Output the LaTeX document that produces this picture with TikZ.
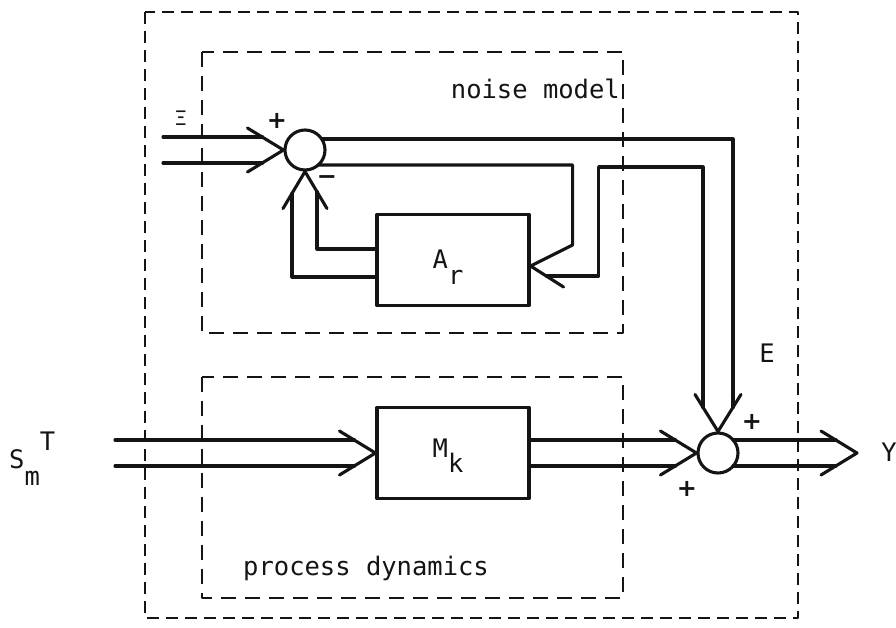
\documentclass[tikz,border=0pt]{standalone}
\usepackage{fontspec}
\setmonofont{DejaVu Sans Mono}
\newfontfamily\signfont{DejaVu Sans}
\usetikzlibrary{calc}
\definecolor{ink}{HTML}{141414}

% a two-line (vector) signal running right into one chevron tip
\newcommand{\hbus}[2]{%
  \draw[bus] ($(#1)+(0,-13)$) -- ($(#2)+(-21,-13)$);
  \draw[bus] ($(#1)+(0,13)$) -- ($(#2)+(-21,13)$);
  \draw[bus] ($(#2)+(-36,-22)$) -- (#2) -- ($(#2)+(-36,22)$);}

\begin{document}
\begin{tikzpicture}[x=1pt,y=-1pt,font=\ttfamily\fontsize{25.5}{30}\selectfont,text=ink,
  line cap=round,line join=round,
  bus/.style={ink,line width=3.1pt},
  frame/.style={ink,line width=2.6pt,line cap=butt,dash pattern=on 12pt off 7pt},
  block/.style={draw=ink,line width=3.1pt,minimum width=152pt,minimum height=91pt,inner sep=0pt},
  sum/.style={draw=ink,line width=3.1pt,circle,minimum size=40pt,inner sep=0pt},
  sign/.style={font=\signfont\bfseries\fontsize{24}{24}\selectfont,inner sep=0pt}]
  \useasboundingbox (0,0) rectangle (896,627);

  % dashed frames: whole plant, noise model, process dynamics
  \draw[frame] (145,12) rectangle (798,618);
  \draw[frame,dash pattern=on 15pt off 9pt] (202,52) rectangle (623,333);
  \draw[frame,dash pattern=on 15pt off 9pt] (202,377) rectangle (623,598);
  \node[anchor=base east,inner sep=0pt] (noisetxt) at (620,98) {noise model};
  \node[anchor=base west,inner sep=0pt] (proctxt) at (243,575) {process dynamics};

  \node[sum] (s1) at (305,150) {};
  \node[sum] (s2) at (718,453) {};
  \node[block] (Ar) at (453,260) {\smash{\kern-10pt\raisebox{-8pt}{A\raisebox{-16pt}{r}}}};
  \node[block] (Mk) at (453,453) {\smash{\kern-10pt\raisebox{-4pt}{M\raisebox{-15pt}{k}}}};

  \coordinate (xiin) at (163,150);
  \coordinate (smin) at (115,453);
  \coordinate (ytip) at (857,453);
  \coordinate (s2out) at ($(s2.center)+(15,0)$);

  \hbus{xiin}{s1.west}
  \hbus{smin}{Mk.west}
  \hbus{Mk.east}{s2.west}
  \hbus{s2out}{ytip}

  % noise sum output E: one pair of lines to the plant sum, one to A_r
  \draw[bus] ($(s1.center)+(17,-11)$) -| ($(s2.north)+(15,-24)$);
  \draw[bus] ($(s1.center)+(13,15)$) -| ($(Ar.east)+(42,-15)$)
    -- ($(Ar.east)+(0,6)$) -- ($(Ar.east)+(33,27)$);
  \draw[bus] ($(Ar.east)+(16,16)$) -| ($(Ar.east)+(68,-93)$)
    -| ($(s2.north)+(-15,-24)$);
  \draw[bus] ($(s2.north)+(-23,-37)$) -- (s2.north) -- ($(s2.north)+(23,-37)$);

  % A_r fed back into the noise sum
  \draw[bus] ($(Ar.west)+(0,-11)$) -| ($(s1.south)+(12,20)$);
  \draw[bus] ($(Ar.west)+(0,17)$) -| ($(s1.south)+(-13,22)$);
  \draw[bus] ($(s1.south)+(-22,37)$) -- (s1.south) -- ($(s1.south)+(22,37)$);

  \node[font=\ttfamily\fontsize{20}{20}\selectfont] (xilbl) at (181,118) {Ξ};
  \node (Elbl) at (767,353) {E};
  \node (Ylbl) at (889,452) {Y};
  \node[anchor=base west,inner sep=0pt] (smlbl) at (9,468) {S\raisebox{-17pt}{m}\raisebox{18pt}{T}};
  \node[sign] (plus1) at (277,121) {+};
  \node[sign] (minus1) at (327,180) {−};
  \node[sign] (plus2) at (752,422) {+};
  \node[sign] (plus3) at (687,489) {+};
\end{tikzpicture}
\end{document}
